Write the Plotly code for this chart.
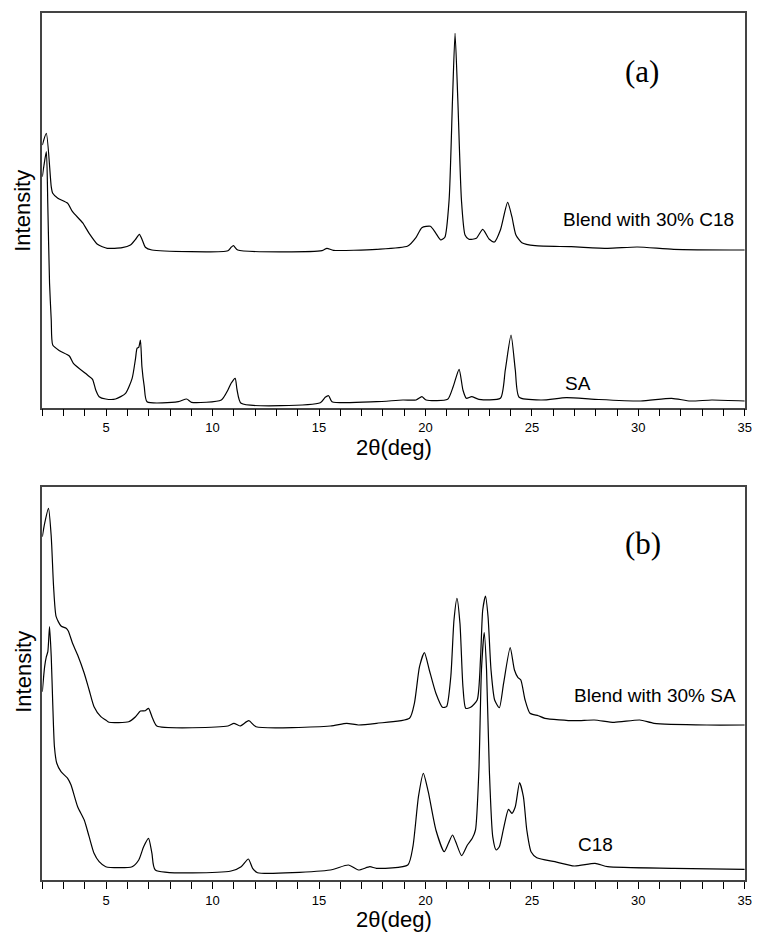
import plotly.graph_objects as go

# ---------------- data (2θ in degrees, intensity in arbitrary units) ----------------
blend_c18_theta = [2.00, 2.19, 2.42, 2.49, 2.73, 3.19, 3.42, 3.89, 4.20, 4.59, 4.82, 5.05,
                   5.75, 6.14, 6.38, 6.56, 6.71, 6.84, 7.15, 10.72, 10.87, 10.98, 11.18,
                   15.14, 15.37, 15.68, 17.70, 19.17, 19.56, 19.83, 20.23, 20.49, 20.72,
                   20.91, 21.11, 21.27, 21.39, 21.52, 21.69, 21.86, 22.04, 22.39, 22.69,
                   23.00, 23.24, 23.52, 23.86, 24.06, 24.25, 24.53, 25.15, 26.85, 28.56,
                   29.95, 31.66, 35.00]
blend_c18_int = [262.7, 274.4, 221.0, 214.4, 209.4, 204.4, 196.0, 185.0, 174.4, 163.4, 161.0, 159.4,
                 160.0, 162.7, 168.4, 173.4, 167.0, 160.4, 157.7, 157.0, 160.4, 162.0, 157.7,
                 157.0, 159.4, 157.4, 158.4, 161.7, 170.4, 180.0, 181.4, 174.4, 167.7,
                 170.4, 207.7, 307.7, 374.4, 307.7, 207.7, 172.7, 168.4, 169.4, 178.4,
                 168.4, 165.7, 177.7, 205.4, 191.0, 172.7, 165.0, 162.0, 161.0, 159.4,
                 160.7, 158.4, 157.7]

sa_theta = [2.00, 2.08, 2.19, 2.26, 2.34, 2.42, 2.49, 2.81, 3.27, 3.46, 4.12, 4.36, 4.51, 4.67,
            4.98, 5.44, 5.91, 6.22, 6.38, 6.45, 6.53, 6.61, 6.68, 6.79, 6.92, 8.39, 8.78, 9.01,
            10.41, 10.72, 10.87, 11.06, 11.15, 11.34, 15.06, 15.29, 15.45, 15.61, 17.70, 18.94,
            19.56, 19.83, 20.03, 21.04, 21.30, 21.58, 21.76, 21.92, 22.17, 22.51, 23.52, 23.75,
            24.02, 24.22, 24.40, 25.46, 26.62, 27.95, 30.11, 31.56, 32.44, 33.45, 35.00]
sa_int = [231.0, 242.7, 256.0, 201.0, 124.4, 87.7, 62.7, 57.0, 51.7, 44.4, 32.7, 28.4, 17.7, 11.0,
          8.7, 8.7, 14.4, 29.4, 49.4, 59.4, 60.4, 67.7, 41.0, 21.0, 6.0, 6.0, 8.7, 5.4,
          7.7, 17.7, 24.4, 29.4, 17.7, 4.4, 5.0, 10.4, 12.0, 6.0, 6.0, 7.7,
          7.7, 11.0, 7.7, 8.4, 21.0, 38.4, 17.7, 9.4, 11.0, 8.4, 9.4, 37.7,
          72.7, 37.7, 10.4, 7.7, 10.0, 8.4, 6.7, 9.4, 6.7, 7.7, 6.7]

blend_sa_theta = [2.00, 2.11, 2.29, 2.42, 2.53, 2.65, 2.88, 3.12, 3.22, 3.42, 3.66, 3.97, 4.20,
                  4.43, 4.75, 4.98, 5.13, 6.06, 6.38, 6.61, 6.84, 6.99, 7.18, 7.38, 10.72,
                  11.00, 11.29, 11.70, 12.04, 15.53, 16.30, 16.85, 17.70, 19.25, 19.48, 19.72,
                  19.95, 20.18, 20.49, 20.80, 20.99, 21.19, 21.34, 21.48, 21.62, 21.76, 21.89,
                  22.12, 22.43, 22.59, 22.69, 22.82, 22.94, 23.08, 23.25, 23.47, 23.67, 23.98,
                  24.18, 24.34, 24.48, 24.68, 24.91, 25.30, 25.61, 27.00, 27.93, 28.86, 30.07,
                  30.74, 33.21, 35.00]
blend_sa_int = [343.6, 357.0, 372.0, 343.6, 293.6, 263.6, 254.3, 252.0, 249.3, 237.0, 225.3, 207.0, 190.3,
                173.6, 163.6, 160.3, 158.0, 158.6, 163.6, 169.3, 169.6, 172.0, 162.0, 154.3, 154.3,
                157.0, 154.3, 159.6, 153.6, 154.3, 157.0, 155.3, 157.0, 162.0, 177.0, 213.6,
                227.6, 210.3, 187.0, 173.0, 173.6, 203.6, 260.3, 282.0, 257.0, 193.6, 172.0,
                173.0, 180.3, 223.6, 270.3, 284.3, 263.6, 210.3, 180.3, 172.6, 197.0, 232.6,
                210.3, 203.0, 200.3, 180.3, 167.0, 164.6, 162.0, 159.6, 160.3, 158.0, 160.3,
                157.0, 155.3, 155.3]

c18_theta = [2.00, 2.11, 2.19, 2.26, 2.34, 2.42, 2.49, 2.57, 2.68, 2.88, 3.19, 3.35, 3.66, 3.97,
             4.20, 4.43, 4.67, 4.98, 6.22, 6.53, 6.76, 6.99, 7.15, 7.31, 10.87, 11.34, 11.68,
             11.88, 12.11, 15.53, 16.38, 16.85, 17.39, 17.70, 19.17, 19.41, 19.67, 19.90, 20.13,
             20.49, 20.88, 21.08, 21.27, 21.42, 21.70, 21.97, 22.20, 22.35, 22.51, 22.63, 22.76,
             22.87, 23.00, 23.16, 23.32, 23.47, 23.67, 23.90, 24.06, 24.22, 24.42, 24.60, 24.76,
             24.96, 25.23, 26.08, 27.00, 27.97, 28.56, 31.66, 35.00]
c18_int = [188.6, 213.6, 223.6, 228.6, 253.6, 223.6, 177.0, 133.6, 117.0, 108.6, 102.0, 95.3, 73.6, 60.3,
           43.6, 27.0, 18.6, 13.6, 13.6, 20.3, 33.6, 42.0, 27.0, 10.3, 9.3, 13.6, 21.3,
           12.0, 7.6, 10.3, 15.3, 10.3, 13.6, 12.0, 15.3, 33.6, 83.6, 107.0, 88.6,
           50.3, 28.6, 37.0, 45.3, 38.6, 24.6, 35.3, 42.0, 50.3, 110.3, 210.3, 247.6,
           210.3, 110.3, 43.6, 30.3, 33.6, 52.0, 71.0, 67.0, 73.6, 97.6, 83.6, 50.3,
           28.6, 22.6, 18.6, 14.3, 17.0, 13.6, 12.0, 11.0]

major_ticks = [5, 10, 15, 20, 25, 30, 35]
curve_labels_a = ["Blend with 30% C18", "SA"]
curve_labels_b = ["Blend with 30% SA", "C18"]

# ---------------- figure ----------------
W, H = 759, 932
L, R = 42.7, 751.7
A_TOP, A_BOT = 12.7, 407.7
B_TOP, B_BOT = 486.7, 880.3

def px(x):
    return x / W

def py(y):
    return 1 - y / H

line_style = dict(color="black", width=1.2, shape="spline", smoothing=0.6)
fig = go.Figure()
fig.add_trace(go.Scatter(x=blend_c18_theta, y=blend_c18_int, mode="lines", line=line_style,
                         xaxis="x", yaxis="y", showlegend=False))
fig.add_trace(go.Scatter(x=sa_theta, y=sa_int, mode="lines", line=line_style,
                         xaxis="x", yaxis="y", showlegend=False))
fig.add_trace(go.Scatter(x=blend_sa_theta, y=blend_sa_int, mode="lines", line=line_style,
                         xaxis="x2", yaxis="y2", showlegend=False))
fig.add_trace(go.Scatter(x=c18_theta, y=c18_int, mode="lines", line=line_style,
                         xaxis="x2", yaxis="y2", showlegend=False))

frame = dict(showline=True, linecolor="#444444", linewidth=1.5, mirror=True,
             showgrid=False, zeroline=False)
xcommon = dict(range=[2, 35], tickvals=major_ticks, ticks="outside", ticklen=7,
               tickwidth=1, tickcolor="black",
               minor=dict(tick0=0, dtick=1, ticks="outside", ticklen=7, tickwidth=1,
                          tickcolor="black"),
               tickfont=dict(family="Liberation Sans, Arial", size=13, color="black"),
               domain=[px(L), px(R)], **frame)
ycommon = dict(showticklabels=False, ticks="", **frame)

fig.update_layout(
    width=W, height=H,
    margin=dict(l=0, r=0, t=0, b=0),
    paper_bgcolor="white", plot_bgcolor="white",
    xaxis=dict(anchor="y", **xcommon),
    yaxis=dict(anchor="x", range=[0, A_BOT - A_TOP], domain=[py(A_BOT), py(A_TOP)], **ycommon),
    xaxis2=dict(anchor="y2", **xcommon),
    yaxis2=dict(anchor="x2", range=[0, B_BOT - B_TOP], domain=[py(B_BOT), py(B_TOP)], **ycommon),
)

sans = "Liberation Sans, Arial"
serif = "Liberation Serif, Times New Roman"
ann = []
def text(t, x, y, size, family=sans, xanchor="center", angle=0):
    ann.append(dict(text=t, x=px(x), y=py(y), xref="paper", yref="paper",
                    xanchor=xanchor, yanchor="middle", showarrow=False, textangle=angle,
                    font=dict(family=family, size=size, color="black")))

cx = (L + R) / 2
text("2θ(deg)", cx, 447, 22)
text("2θ(deg)", cx, 919, 22)
text("Intensity", 23, 211, 22, angle=-90)
text("Intensity", 23, 672, 22, angle=-90)
text("(a)", 648, 71, 31, family=serif)
text("(b)", 649, 543, 31, family=serif)
text(curve_labels_a[0], 566, 219, 19, xanchor="left")
text(curve_labels_a[1], 568, 383, 19, xanchor="left")
text(curve_labels_b[0], 577, 695, 19, xanchor="left")
text(curve_labels_b[1], 581, 844, 19, xanchor="left")
fig.update_layout(annotations=ann)

fig.write_html("out.html")
